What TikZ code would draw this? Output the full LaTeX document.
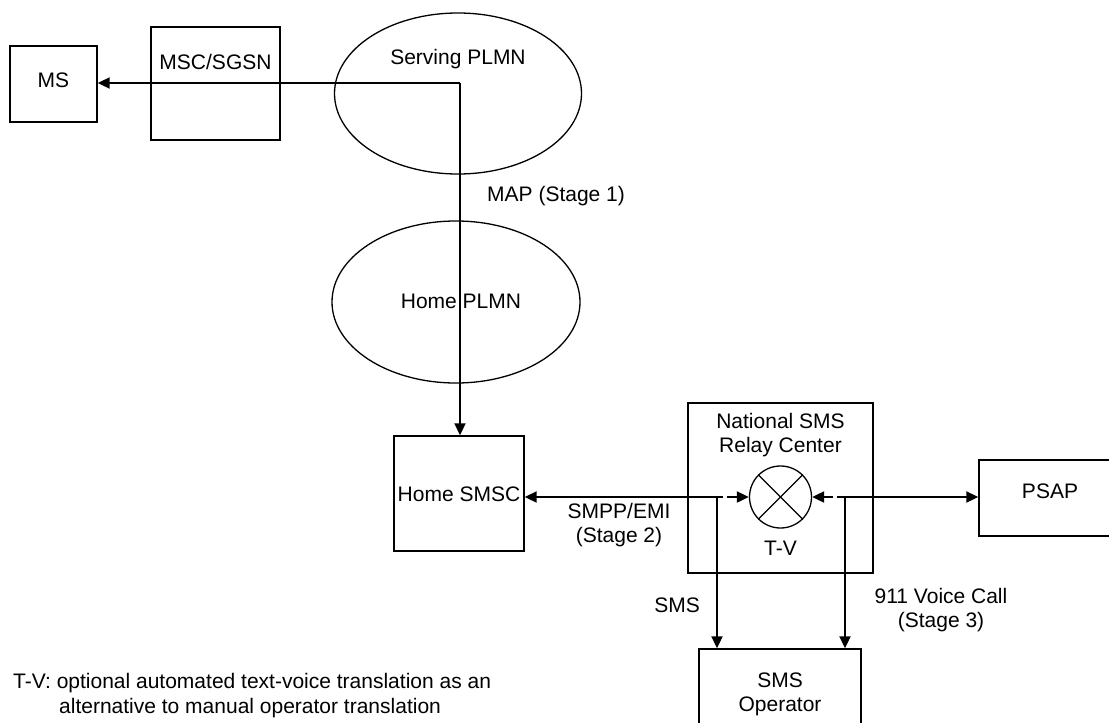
\documentclass[tikz,border=0pt]{standalone}
\usepackage{fontspec}
\setmainfont{Liberation Sans}
\usetikzlibrary{arrows.meta,shapes.geometric,calc}
\begin{document}
\begin{tikzpicture}[x=1pt,y=-1pt,
  font=\fontsize{21}{24}\selectfont,
  box/.style={draw, line width=1.4pt, inner sep=0pt},
  oval/.style={draw, ellipse, line width=1.3pt, inner sep=0pt},
  link/.style={line width=2pt, -{Triangle[length=12pt,width=11pt]}},
  txt/.style={inner sep=0pt, align=center},
]
\useasboundingbox (0,0) rectangle (1109,723);

% network elements
\node[box, minimum width=87pt, minimum height=76pt] (ms) at (53.5,84) {};
\node[txt] (mslbl) at (53.5,80) {MS};
\node[box, minimum width=129pt, minimum height=113pt] (msc) at (215.5,83.5) {};
\node[txt] (msclbl) at (215.5,62) {MSC/SGSN};

\node[oval, minimum width=247pt, minimum height=161pt] (serv) at (458,93.5) {};
\node[txt] (servlbl) at (458,59) {Serving PLMN};

\node[oval, minimum width=248pt, minimum height=162pt] (home) at (456,302) {};
\node[txt] (homelbl) at (461,301) {Home PLMN};

\node[box, minimum width=130pt, minimum height=115pt] (smsc) at (459,493.5) {};
\node[txt] (smsclbl) at (459,494) {Home SMSC};

\node[box, minimum width=185pt, minimum height=170pt] (relay) at (780.5,488) {};
\node[txt] (relaylbl) at (780.5,435) {National SMS\\Relay Center};
\node[draw, circle, line width=1.3pt, minimum size=62pt, inner sep=0pt] (tv) at (780.5,497) {};
\draw[line width=1.3pt] (tv.north west) -- (tv.south east);
\draw[line width=1.3pt] (tv.north east) -- (tv.south west);
\node[txt] (tvlbl) at (780.5,548) {T-V};

\node[box, minimum width=142pt, minimum height=76pt] (psap) at (1050,498) {};
\node[txt] (psaplbl) at (1050,491) {PSAP};

\node[box, minimum width=162pt, minimum height=78pt] (op) at (780,688) {};
\node[txt] (oplbl) at (780,694) {SMS\\Operator};

% routing corners
\coordinate (c0) at (460,83);
\coordinate (c1) at (717,497);
\coordinate (c2) at (845,497);

% stage 1: MAP
\draw[link] (c0) -- (ms.east |- c0);
\draw[link] (c0) -- (c0 |- smsc.north);
\node[txt, anchor=west] (maplbl) at (487,196) {MAP (Stage 1)};

% stage 2: SMPP/EMI
\draw[link] (c1) -- (smsc.east |- c1);
\draw[link] (c1) -- (c1 |- op.north);
\draw[link, dash pattern=on 6pt off 4pt on 60pt] (c1) -- (tv.west);
\node[txt] (smpplbl) at (619,525.5) {SMPP/EMI\\(Stage 2)};
\node[txt] (smslbl) at (677,605) {SMS};

% stage 3: voice call
\draw[link] (c2) -- (psap.west |- c2);
\draw[link] (c2) -- (c2 |- op.north);
\draw[link, dash pattern=on 8pt off 4pt on 60pt] (c2) -- (tv.east);
\node[txt] (voicelbl) at (941,610) {911 Voice Call\\(Stage 3)};

% footnote
\node[txt, anchor=west] (note1) at (13,683) {T-V: optional automated text-voice translation as an};
\node[txt, anchor=west] (note2) at (59,708) {alternative to manual operator translation};
\end{tikzpicture}
\end{document}
